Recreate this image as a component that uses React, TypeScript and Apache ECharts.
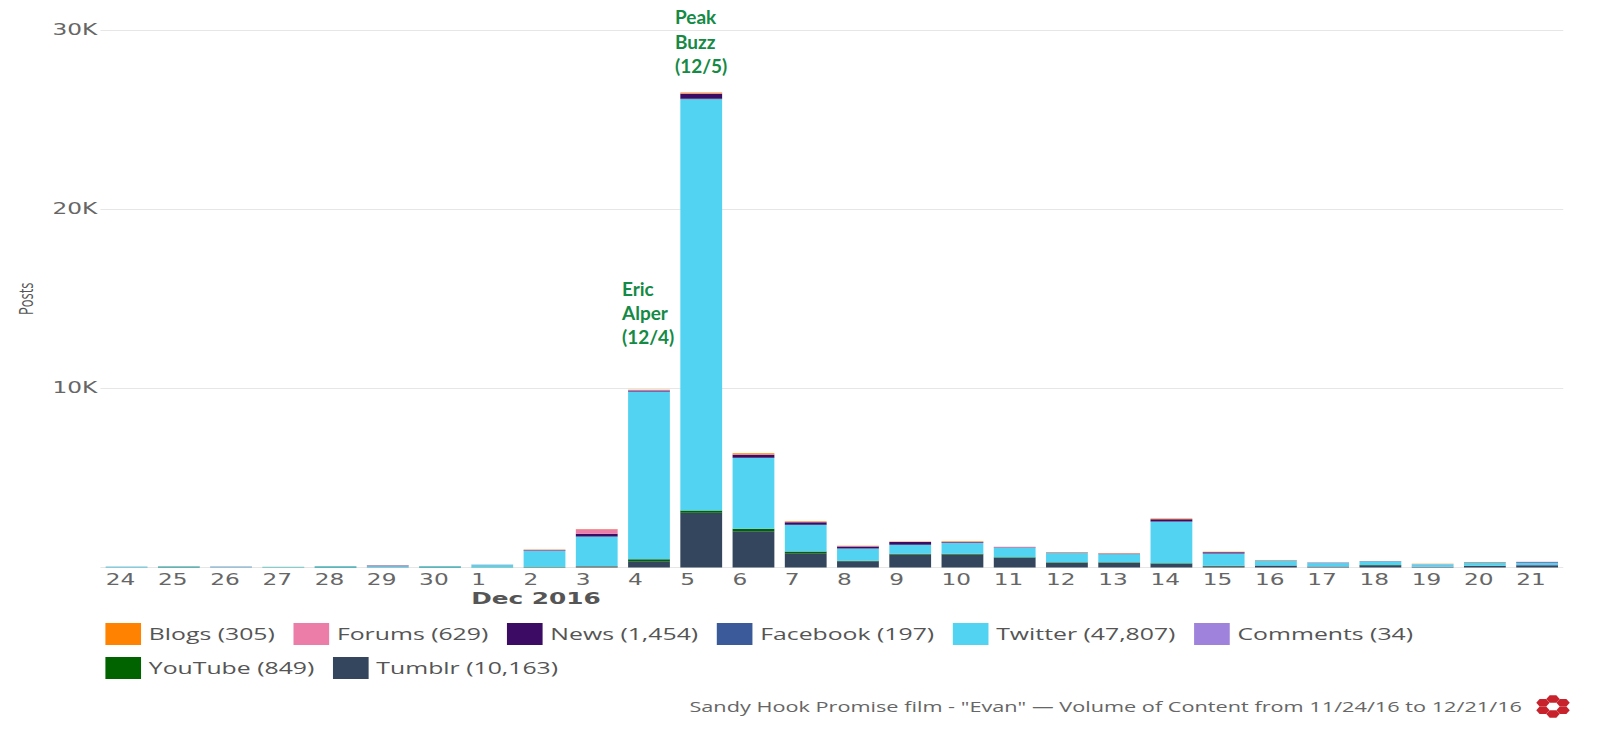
import React, { useEffect, useRef } from 'react';
import * as echarts from 'echarts';

// ---------- data ----------
const categories = ['24', '25', '26', '27', '28', '29', '30', '1', '2', '3', '4', '5', '6', '7', '8', '9', '10', '11', '12', '13', '14', '15', '16', '17', '18', '19', '20', '21'];

const blogs = [0, 0, 0, 0, 0, 0, 0, 0, 10, 10, 10, 45, 50, 30, 15, 20, 30, 5, 20, 10, 30, 5, 5, 0, 0, 5, 5, 0];
const forums = [0, 0, 5, 0, 0, 5, 0, 5, 30, 262, 30, 30, 25, 25, 20, 15, 30, 25, 20, 30, 15, 15, 5, 15, 5, 15, 5, 10];
const news = [0, 0, 5, 0, 0, 5, 0, 5, 35, 150, 50, 280, 170, 150, 110, 150, 40, 15, 15, 15, 130, 70, 10, 5, 10, 10, 10, 10];
const facebook = [0, 0, 0, 0, 0, 40, 0, 5, 10, 10, 10, 20, 15, 10, 5, 5, 5, 10, 0, 5, 10, 5, 0, 0, 0, 0, 0, 30];
const twitter = [40, 55, 35, 35, 50, 50, 60, 140, 890, 1640, 9350, 22950, 3950, 1470, 690, 500, 600, 530, 520, 450, 2320, 680, 260, 200, 200, 130, 190, 130];
const comments = [0, 0, 0, 0, 0, 0, 0, 0, 0, 3, 5, 8, 3, 0, 0, 0, 0, 0, 0, 0, 0, 0, 0, 0, 0, 0, 0, 15];
const youtube = [10, 20, 5, 5, 15, 5, 12, 5, 10, 35, 110, 130, 130, 110, 20, 35, 35, 25, 25, 25, 25, 25, 8, 5, 5, 5, 5, 5];
const tumblr = [10, 15, 15, 5, 15, 15, 15, 5, 20, 40, 350, 3050, 2030, 790, 350, 730, 730, 550, 270, 270, 210, 75, 110, 50, 130, 40, 90, 120];

const legendOrder = ['Blogs', 'Forums', 'News', 'Facebook', 'Twitter', 'Comments', 'YouTube', 'Tumblr'];
const legendTotals = ['305', '629', '1,454', '197', '47,807', '34', '849', '10,163'];

const yTicks = [0, 10000, 20000, 30000];
const axisMonthLabel = 'Dec 2016';
const footerText = 'Sandy Hook Promise film - "Evan" \u2014 Volume of Content from 11/24/16 to 12/21/16';
const annotationEric = 'Eric\nAlper\n(12/4)';
const annotationPeak = 'Peak\nBuzz\n(12/5)';

// ---------- styles ----------
const colors: Record<string, string> = {
  Blogs: '#ff8300',
  Forums: '#ec7ca8',
  News: '#3c0c64',
  Facebook: '#3b5a9a',
  Twitter: '#53d3f2',
  Comments: '#9f82dc',
  YouTube: '#006300',
  Tumblr: '#34465d',
};

// stacking order, bottom to top
const stackSeries: [string, number[]][] = [
  ['Tumblr', tumblr],
  ['YouTube', youtube],
  ['Comments', comments],
  ['Twitter', twitter],
  ['Facebook', facebook],
  ['News', news],
  ['Forums', forums],
  ['Blogs', blogs],
];

const S = 1.55; // horizontal stretch of the reference picture
const BW = 1600 / S;

function hexPoints(r: number, cx: number, cy: number): number[][] {
  const pts: number[][] = [];
  for (let i = 0; i < 6; i++) {
    const a = (Math.PI / 3) * i;
    pts.push([cx + r * Math.cos(a), cy + r * Math.sin(a)]);
  }
  return pts;
}

export default function App() {
  const ref = useRef<HTMLDivElement>(null);

  useEffect(() => {
    document.body.style.margin = '0';
    if (!ref.current) return;
    const chart = echarts.init(ref.current, null, { renderer: 'svg' });

    const logoChildren: any[] = [];
    const R = 7.5;
    [90, 30, -30, -90, -150, 150].forEach((deg) => {
      const a = (deg * Math.PI) / 180;
      logoChildren.push({
        type: 'polygon',
        shape: { points: hexPoints(4.3, R * Math.cos(a), -R * Math.sin(a)) },
        style: { fill: '#c8232c' },
      });
    });

    const totalsMap: Record<string, string> = {};
    legendOrder.forEach((n, i) => (totalsMap[n] = legendTotals[i]));

    chart.setOption({
      animation: false,
      backgroundColor: '#ffffff',
      grid: { left: 64.8, right: BW - 1008.8, top: 30, bottom: 737 - 567.5, containLabel: false },
      legend: {
        data: legendOrder,
        left: 68,
        top: 623,
        width: 900,
        padding: 0,
        itemWidth: 23,
        itemHeight: 22,
        itemGap: 12,
        icon: 'rect',
        selectedMode: false,
        formatter: (name: string) => `${name} (${totalsMap[name]})`,
        textStyle: { fontFamily: '"Open Sans"', fontSize: 16, color: '#555555', lineHeight: 22 },
      },
      xAxis: {
        type: 'category',
        data: categories,
        axisLine: { show: false },
        axisTick: { show: false },
        axisLabel: {
          interval: 0,
          margin: 5,
          formatter: (v: string) => `{a|${v}}`,
          rich: {
            a: { width: 27, align: 'left', fontFamily: '"DejaVu Sans"', fontSize: 15, color: '#666666' },
          },
        },
      },
      yAxis: {
        type: 'value',
        min: 0,
        max: 30000,
        interval: 10000,
        name: 'Posts',
        nameLocation: 'middle',
        nameRotate: 90,
        nameGap: 40,
        nameTextStyle: { fontFamily: '"Open Sans"', fontSize: 13, color: '#555555' },
        axisLine: { show: false },
        axisTick: { show: false },
        splitLine: { lineStyle: { color: '#e6e6e6', width: 1 } },
        axisLabel: {
          margin: 2,
          fontFamily: '"DejaVu Sans"',
          fontSize: 15,
          color: '#666666',
          formatter: (v: number) => (v === yTicks[0] ? '' : `${v / 1000}K`),
        },
      },
      series: stackSeries.map(([name, data]) => ({
        name,
        type: 'bar',
        stack: 'total',
        data,
        barCategoryGap: '20%',
        itemStyle: { color: colors[name], borderWidth: 0 },
        emphasis: { disabled: true },
      })),
      graphic: [
        {
          type: 'text',
          x: 536 / S,
          y: 599,
          style: { text: axisMonthLabel, font: 'bold 16px "DejaVu Sans"', fill: '#555555', align: 'center', verticalAlign: 'middle' },
        },
        {
          type: 'text',
          x: 1522 / S,
          y: 706,
          style: { text: footerText, font: '14px "Open Sans"', fill: '#666666', align: 'right', verticalAlign: 'middle' },
        },
        {
          type: 'group',
          x: 1553 / S,
          y: 706.5,
          children: logoChildren,
        },
        {
          type: 'text',
          x: 622 / S,
          y: 277,
          scaleX: 1 / S,
          style: { text: annotationEric, font: 'bold 19px Lato', fill: '#148a45', align: 'left', verticalAlign: 'top', lineHeight: 24 },
        },
        {
          type: 'text',
          x: 675 / S,
          y: 4.5,
          scaleX: 1 / S,
          style: { text: annotationPeak, font: 'bold 19px Lato', fill: '#148a45', align: 'left', verticalAlign: 'top', lineHeight: 24.5 },
        },
      ],
    });

    return () => chart.dispose();
  }, []);

  return (
    <div style={{ position: 'absolute', left: 0, top: 0, width: 1600, height: 737, overflow: 'hidden', background: '#ffffff' }}>
      <div ref={ref} style={{ width: BW, height: 737, transform: `scaleX(${S})`, transformOrigin: '0 0' }} />
    </div>
  );
}
